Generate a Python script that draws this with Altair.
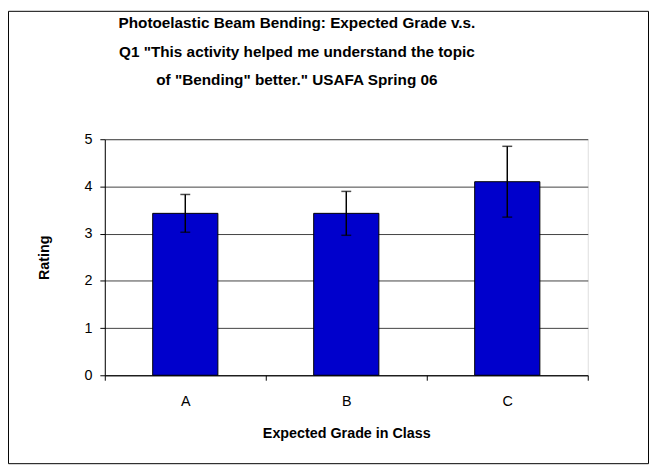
import altair as alt
import pandas as pd

grades = ["A", "B", "C"]
means = [3.43, 3.43, 4.10]
errors = [0.40, 0.465, 0.75]

df = pd.DataFrame({
    "grade": grades,
    "mean": means,
    "lo": [m - e for m, e in zip(means, errors)],
    "hi": [m + e for m, e in zip(means, errors)],
})

FONT = "Liberation Sans"
W, H = 489, 239

x = alt.X("grade:N", title="Expected Grade in Class",
          scale=alt.Scale(paddingInner=0, paddingOuter=0),
          axis=alt.Axis(labelAngle=0, tickBand="extent", tickSize=5, tickColor="black",
                        domainColor="black", labelFontSize=14.5, labelFont=FONT,
                        labelColor="black", labelPadding=15,
                        titleFont=FONT, titleFontSize=14.5, titleFontWeight="bold",
                        titleColor="black", titlePadding=18, grid=False))

y_axis = alt.Axis(values=[0, 1, 2, 3, 4, 5], tickSize=5, tickColor="black", domainColor="black",
                  labelFontSize=14.5, labelFont=FONT, labelColor="black", labelPadding=8,
                  titleFont=FONT, titleFontSize=14.5, titleFontWeight="bold",
                  titleColor="black", titlePadding=33, grid=True,
                  gridColor="#000000", gridOpacity=0.75, gridWidth=1)

base = alt.Chart(df)

bars = base.mark_bar(color="#0000CC", stroke="black", strokeWidth=1, size=66).encode(
    x=x,
    y=alt.Y("mean:Q", title="Rating", scale=alt.Scale(domain=[0, 5], nice=False), axis=y_axis),
)

rule = base.mark_rule(color="black", strokeWidth=1.5).encode(
    x="grade:N", y="lo:Q", y2="hi:Q"
)
cap_lo = base.mark_tick(color="black", thickness=1.5, size=10, orient="horizontal").encode(
    x="grade:N", y="lo:Q"
)
cap_hi = base.mark_tick(color="black", thickness=1.5, size=10, orient="horizontal").encode(
    x="grade:N", y="hi:Q"
)

frame = alt.Chart(pd.DataFrame({"a": [0]})).mark_rect(
    fill=None, stroke="black", strokeWidth=1, clip=False
).encode(
    x=alt.value(-97.5), x2=alt.value(550.5), y=alt.value(-129.5), y2=alt.value(328.5)
)

chart = alt.layer(bars, rule, cap_lo, cap_hi, frame).properties(
    width=W, height=H,
    autosize=alt.AutoSizeParams(type="none"),
    padding={"left": 98, "top": 130, "right": 62, "bottom": 90},
    title=alt.TitleParams(
        text=["Photoelastic Beam Bending: Expected Grade v.s.",
              "Q1 \"This activity helped me understand the topic",
              "of \"Bending\" better.\" USAFA Spring 06"],
        font=FONT, fontSize=15.5, fontWeight="bold", color="black",
        anchor="middle", lineHeight=29, offset=-79, dx=-50,
    ),
).configure_view(stroke="#808080", strokeWidth=1).configure(background="white")

chart.save("out.html", embed_options={"renderer": "svg", "actions": False})
